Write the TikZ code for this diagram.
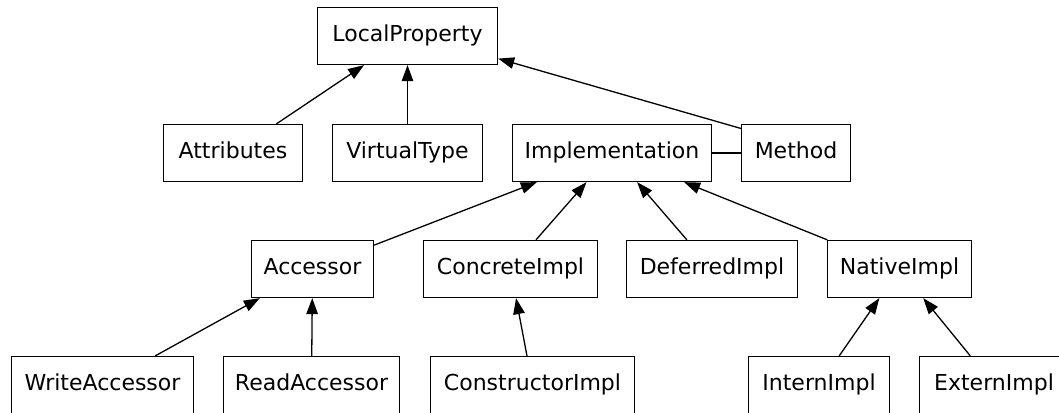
\documentclass[tikz,border=0pt]{standalone}
\usepackage{fontspec}
\setmainfont{DejaVu Sans}
\usetikzlibrary{arrows.meta}
\begin{document}
\begin{tikzpicture}[x=1pt,y=-1pt,
  cls/.style={draw, line width=1.3pt, minimum height=57pt, inner sep=0pt,
    text height=16pt, text depth=5pt,
    font=\fontsize{22}{26}\selectfont},
  inh/.style={line width=1.3pt, -{Triangle[length=16pt,width=11.5pt]}},
  plain/.style={line width=1.3pt}]
\useasboundingbox (0,0) rectangle (1059,412);
\fill[white] (0,0) rectangle (1059,412);
\clip (0,0) rectangle (1059,412);
% row 1
\node[cls, minimum width=180pt] (lp) at (407.5,36) {LocalProperty};
% row 2
\node[cls, minimum width=139pt] (attr) at (233,153) {Attributes};
\node[cls, minimum width=150pt] (vt) at (407.5,153) {VirtualType};
\node[cls, minimum width=199pt] (impl) at (612,153) {Implementation};
\node[cls, minimum width=109pt] (meth) at (796,153) {Method};
% row 3
\node[cls, minimum width=122pt] (acc) at (312.5,269) {Accessor};
\node[cls, minimum width=174pt] (conc) at (510.5,269) {ConcreteImpl};
\node[cls, minimum width=171pt] (def) at (712,269) {DeferredImpl};
\node[cls, minimum width=144pt] (nat) at (899.5,269) {NativeImpl};
% row 4
\node[cls, minimum width=182pt] (wacc) at (102.5,385) {WriteAccessor};
\node[cls, minimum width=176pt] (racc) at (311.5,385) {ReadAccessor};
\node[cls, minimum width=204pt] (cons) at (532.5,385) {ConstructorImpl};
\node[cls, minimum width=141pt] (intern) at (819,385) {InternImpl};
\node[cls, minimum width=149pt] (extern) at (994,385) {ExternImpl};
% edges
\draw[inh] (attr) -- (lp);
\draw[inh] (vt) -- (lp);
\draw[inh] (meth.156) -- (lp.-14);
\draw[plain] (impl) -- (meth);
\draw[inh] (acc) -- (impl);
\draw[inh] (conc) -- (impl);
\draw[inh] (def) -- (impl);
\draw[inh] (nat) -- (impl);
\draw[inh] (wacc) -- (acc);
\draw[inh] (racc) -- (acc);
\draw[inh] (cons) -- (conc);
\draw[inh] (intern) -- (nat);
\draw[inh] (extern) -- (nat);
\end{tikzpicture}
\end{document}
